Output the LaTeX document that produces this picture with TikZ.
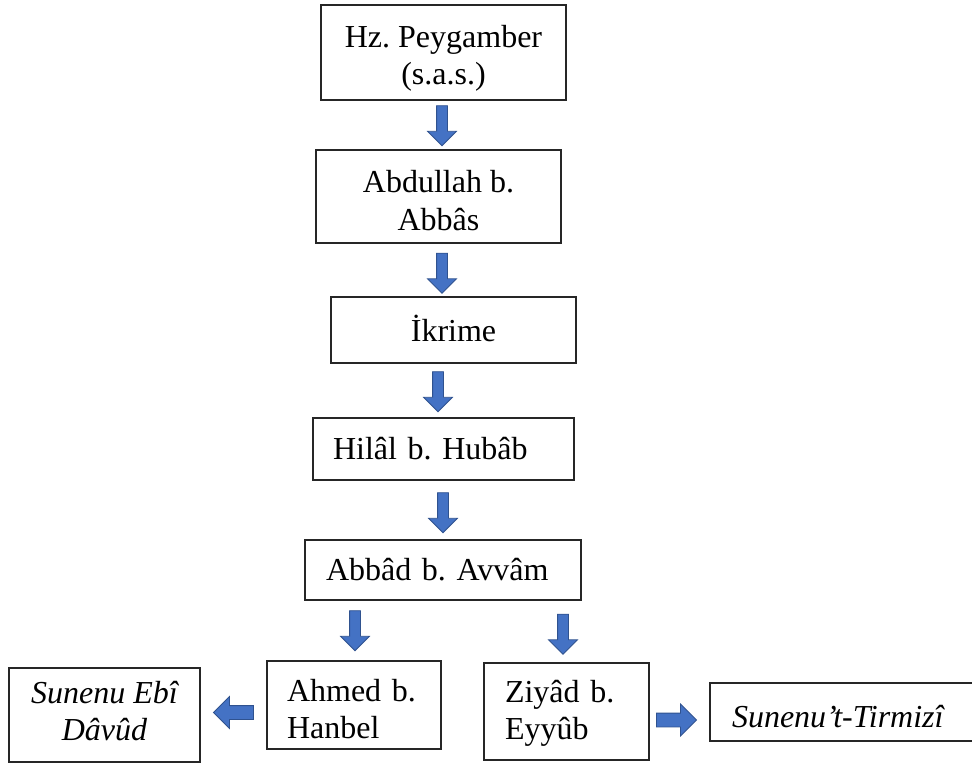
\documentclass[tikz,border=0pt]{standalone}
\usepackage{fontspec}
\setmainfont{Liberation Serif}
\usetikzlibrary{shapes.arrows}
\definecolor{arrfill}{HTML}{4472C4}
\definecolor{arrdraw}{HTML}{2F528F}
\frenchspacing
\begin{document}
\begin{tikzpicture}[x=1pt,y=-1pt,
 box/.style={draw=black!85, line width=1.1pt, rectangle, inner sep=0pt},
 txt/.style={inner sep=0pt, font=\fontsize{32}{37.5}\selectfont},
 itxt/.style={txt, font=\fontsize{32}{37.5}\selectfont\itshape},
 blk/.style={single arrow, draw=arrdraw, fill=arrfill, line width=0.8pt, inner sep=5pt,
   single arrow head indent=0pt, single arrow head extend=9pt, minimum height=40pt, minimum width=28pt},
 downarr/.style={blk, shape border rotate=270},
 leftarr/.style={blk, shape border rotate=180, inner sep=6.5pt, minimum width=31pt},
 rightarr/.style={blk, shape border rotate=0, inner sep=6.5pt, minimum width=31pt},
]
\useasboundingbox (0,0) rectangle (972,763);
% boxes
\node[box, minimum width=245pt, minimum height=95pt] (b1) at (443.5,52.5) {};
\node[box, minimum width=245pt, minimum height=93pt] (b2) at (438.5,196.5) {};
\node[box, minimum width=245pt, minimum height=66pt] (b3) at (453.5,330) {};
\node[box, minimum width=261pt, minimum height=62pt] (b4) at (443.5,449) {};
\node[box, minimum width=276pt, minimum height=60pt] (b5) at (443,570) {};
\node[box, minimum width=174pt, minimum height=88pt] (ahmed) at (354,705) {};
\node[box, minimum width=165pt, minimum height=97pt] (ziyad) at (566.5,711.5) {};
\node[box, minimum width=191pt, minimum height=94pt] (ebidavud) at (104.5,715) {};
\node[box, minimum width=266pt, minimum height=58pt] (tirmizi) at (843,712) {};
% texts
\node[txt, align=center] (t1) at (443.5,58.5) {Hz. Peygamber\\(s.a.s.)};
\node[txt, align=center] (t2) at (438.5,200.5) {Abdullah b.\\Abbâs};
\node[txt, align=center] (t3) at (453.5,328) {İkrime};
\node[txt, text width=221pt, align=left] (t4) at (443.5,449) {Hilâl b. Hubâb};
\node[txt, text width=234pt, align=left] (t5) at (443,570) {Abbâd b. Avvâm};
\node[txt, text width=134pt, align=left] (t6) at (354,709) {Ahmed b.\\Hanbel};
\node[txt, text width=123pt, align=left] (t7) at (566.5,713.5) {Ziyâd b.\\Eyyûb};
\node[itxt, align=center] (t8) at (104.5,711) {Sunenu Ebî\\Dâvûd};
\node[itxt, text width=222pt, align=left] (t9) at (843,717) {Sunenu’t-Tirmizî};
% block arrows
\node[downarr] (a1) at (442,123) {};
\node[downarr] (a2) at (442,270.5) {};
\node[downarr] (a3) at (438,389) {};
\node[downarr] (a4) at (443,510) {};
\node[downarr] (a5) at (355,628) {};
\node[downarr] (a6) at (563,631.5) {};
\node[leftarr] (a7) at (237,712.5) {};
\node[rightarr] (a8) at (673,720) {};
\end{tikzpicture}
\end{document}
